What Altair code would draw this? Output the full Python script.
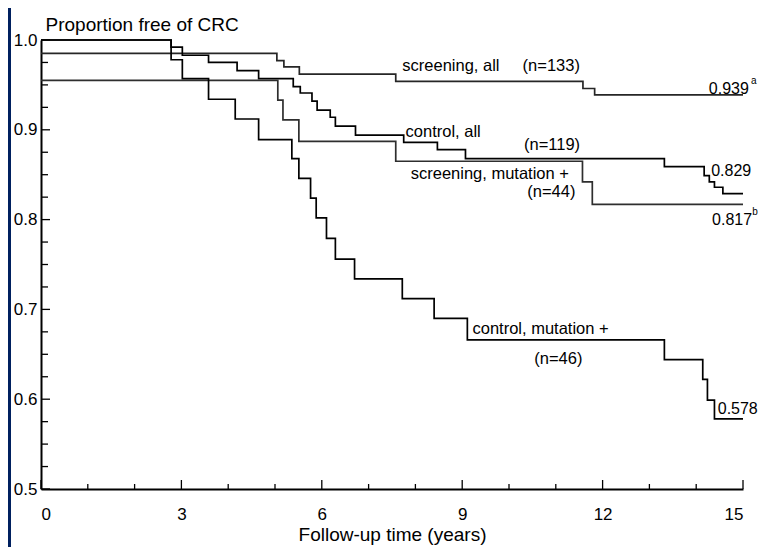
import altair as alt
import pandas as pd

# ---- data (Kaplan-Meier step curves) ----
years_scr_all = [0, 5.04, 5.19, 5.52, 7.58, 11.58, 11.83, 15.0]
prop_scr_all = [0.985, 0.977, 0.970, 0.962, 0.954, 0.946, 0.939, 0.939]

years_ctl_all = [0, 2.78, 3.02, 3.58, 4.19, 4.65, 5.39, 5.54, 5.79, 5.90, 6.18, 6.29,
                 6.72, 7.75, 8.47, 9.07, 13.32, 14.17, 14.28, 14.39, 14.57, 15.0]
prop_ctl_all = [1.0, 0.992, 0.983, 0.975, 0.966, 0.957, 0.948, 0.941, 0.932, 0.922, 0.914, 0.904,
                0.894, 0.886, 0.878, 0.868, 0.859, 0.849, 0.842, 0.836, 0.829, 0.829]

years_scr_mut = [0, 5.06, 5.17, 5.51, 7.58, 11.57, 11.78, 15.0]
prop_scr_mut = [0.955, 0.933, 0.911, 0.887, 0.865, 0.842, 0.817, 0.817]

years_ctl_mut = [0, 2.78, 3.02, 3.58, 4.15, 4.65, 5.36, 5.51, 5.76, 5.88, 6.10, 6.29, 6.70,
                 7.72, 8.40, 9.11, 13.32, 14.14, 14.24, 14.39, 15.0]
prop_ctl_mut = [1.0, 0.978, 0.957, 0.934, 0.912, 0.889, 0.868, 0.846, 0.824, 0.802, 0.779, 0.756, 0.734,
                0.712, 0.690, 0.666, 0.644, 0.622, 0.599, 0.578, 0.578]

series_names = ["screening, all", "control, all", "screening, mutation +", "control, mutation +"]
series_colors = ["#262626", "#000000", "#2e2e2e", "#000000"]

x_major = [0, 3, 6, 9, 12, 15]
x_minor = [1, 2, 4, 5, 7, 8, 10, 11, 13, 14]
y_major = [0.5, 0.6, 0.7, 0.8, 0.9, 1.0]
y_minor = [0.525, 0.55, 0.575, 0.625, 0.65, 0.675, 0.725, 0.75, 0.775,
           0.825, 0.85, 0.875, 0.925, 0.95, 0.975]

# curve labels: text, anchor year, anchor proportion (left-aligned, alphabetic baseline)
lab_text = ["screening, all", "(n=133)", "control, all", "(n=119)",
            "screening, mutation +", "(n=44)", "control, mutation +", "(n=46)"]
lab_t = [7.72, 10.29, 7.79, 10.32, 7.90, 10.39, 9.22, 10.54]
lab_v = [0.965, 0.965, 0.892, 0.878, 0.845, 0.825, 0.673, 0.639]

# end-of-curve values
end_text = ["0.939", "0.829", "0.817", "0.578"]
end_t = [14.27, 14.32, 14.34, 14.46]
end_v = [0.9394, 0.848, 0.794, 0.583]

sup_text = ["a", "b"]
sup_t = [15.17, 15.2]
sup_v = [0.951, 0.805]

# ---- build tables ----
rows = []
for name, ts, vs in [(series_names[0], years_scr_all, prop_scr_all),
                     (series_names[1], years_ctl_all, prop_ctl_all),
                     (series_names[2], years_scr_mut, prop_scr_mut),
                     (series_names[3], years_ctl_mut, prop_ctl_mut)]:
    for t, v in zip(ts, vs):
        rows.append({"series": name, "t": t, "v": v})
curves = pd.DataFrame(rows)
labs = pd.DataFrame({"text": lab_text, "t": lab_t, "v": lab_v})
ends = pd.DataFrame({"text": end_text, "t": end_t, "v": end_v})
sup = pd.DataFrame({"text": sup_text, "t": sup_t, "v": sup_v})

W, H = 702, 449
FONT = "Liberation Sans"
NAVY = "#00205f"
XT = "Follow-up time (years)"
YT = "Proportion free of CRC"

xs = alt.Scale(domain=[0, 15], nice=False, zero=False)
ys = alt.Scale(domain=[0.5, 1.0], nice=False, zero=False)

x_axis = alt.Axis(
    values=x_major, format="d", ticks=False, tickSize=0, grid=False,
    domainColor="#000", domainWidth=2, labelFontSize=17, labelPadding=17,
    labelColor="#000", labelFont=FONT,
    title=XT, titleFontSize=19, titleFontWeight="normal",
    titleFont=FONT, titleColor="#000", titlePadding=3)
y_axis = alt.Axis(
    values=y_major, format=".1f", ticks=False, tickSize=0, grid=False,
    domainColor="#000", domainWidth=2, labelFontSize=17, labelPadding=4,
    labelColor="#000", labelFont=FONT,
    title=YT, titleAngle=0, titleAlign="left",
    titleBaseline="alphabetic", titleX=4, titleY=-10, titleFontSize=19,
    titleFontWeight="normal", titleFont=FONT, titleColor="#000")


def X():
    return alt.X("t:Q", scale=xs, axis=x_axis, title=XT)


def Y():
    return alt.Y("v:Q", scale=ys, axis=y_axis, title=YT)


lines = alt.Chart(curves).mark_line(interpolate="step-after", strokeWidth=1.7).encode(
    x=X(), y=Y(),
    color=alt.Color("series:N", scale=alt.Scale(domain=series_names, range=series_colors), legend=None),
    detail="series:N",
)

ytick_major = alt.Chart(pd.DataFrame({"v": y_major})).mark_rule(color="#000", strokeWidth=1.3).encode(
    y=Y(), x=alt.value(0), x2=alt.value(9))
ytick_minor = alt.Chart(pd.DataFrame({"v": y_minor})).mark_rule(color="#000", strokeWidth=1.3).encode(
    y=Y(), x=alt.value(0), x2=alt.value(7))
xtick_major = alt.Chart(pd.DataFrame({"t": x_major})).mark_rule(color="#000", strokeWidth=1.3).encode(
    x=X(), y=alt.value(H), y2=alt.value(H - 9))
xtick_minor = alt.Chart(pd.DataFrame({"t": x_minor})).mark_rule(color="#000", strokeWidth=1.3).encode(
    x=X(), y=alt.value(H), y2=alt.value(H - 5))

labels = alt.Chart(labs).mark_text(align="left", baseline="alphabetic", fontSize=16.5,
                                   font=FONT, color="#000").encode(x=X(), y=Y(), text="text:N")
endlabels = alt.Chart(ends).mark_text(align="left", baseline="alphabetic", fontSize=16,
                                      font=FONT, color="#000").encode(x=X(), y=Y(), text="text:N")
sups = alt.Chart(sup).mark_text(align="left", baseline="alphabetic", fontSize=10,
                                font=FONT, color="#000").encode(x=X(), y=Y(), text="text:N")

strip = alt.Chart(pd.DataFrame({"k": [0]})).mark_rect(color=NAVY).encode(
    x=alt.value(-33), x2=alt.value(-30), y=alt.value(-32), y2=alt.value(H + 60))

chart = alt.layer(lines, ytick_major, ytick_minor, xtick_major, xtick_minor,
                  labels, endlabels, sups, strip).properties(
    width=W, height=H,
    padding={"left": 33, "top": 32, "right": 17, "bottom": 58},
    autosize=alt.AutoSizeParams(type="none"),
    background="white",
).configure_view(strokeWidth=0)

chart.save("out.html", embed_options={"renderer": "svg", "actions": False})
